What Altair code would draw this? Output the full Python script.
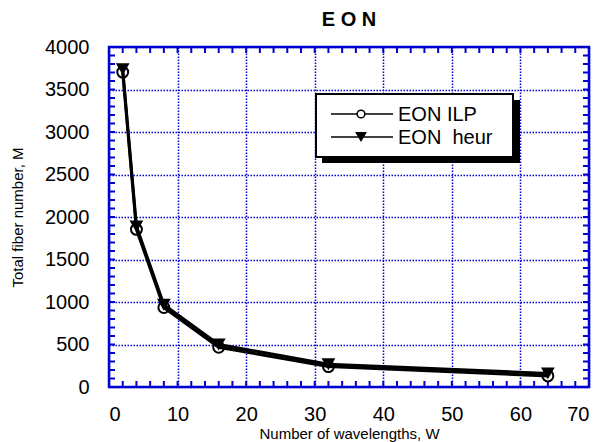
import altair as alt
import pandas as pd

# ---- data ----
wavelengths = [2, 4, 8, 16, 32, 64]
eon_ilp = [3705, 1855, 935, 468, 240, 130]
eon_heur = [3740, 1890, 968, 500, 268, 160]
x_minor = list(range(2, 70, 2))
y_minor = list(range(100, 4000, 100))
x_major = list(range(0, 71, 10))
y_major = list(range(0, 4001, 500))
chart_title = "E O N"

W, H = 480, 340
BLUE = "#0000d0"
FONT = "Liberation Sans"

df = pd.DataFrame({
    "W": wavelengths * 2,
    "M": eon_ilp + eon_heur,
    "series": ["EON ILP"] * len(wavelengths) + ["EON heur"] * len(wavelengths),
})
ilp_df = df[df.series == "EON ILP"]
heur_df = df[df.series == "EON heur"]

xs = alt.Scale(domain=[0, 70], nice=False, zero=False)
ys = alt.Scale(domain=[0, 4000], nice=False, zero=False)

x_axis = alt.Axis(values=x_major, grid=True, ticks=False, domain=False, format="d",
                  gridColor=BLUE, gridDash=[1.5, 1.5], gridWidth=1.5, gridOpacity=1,
                  labelFontSize=20, labelPadding=17, labelFont=FONT, labelColor="black",
                  title="Number of wavelengths, W", titleFontSize=15, titleFont=FONT,
                  titleFontWeight="normal", titleY=46, titleBaseline="middle", titleColor="black")
y_axis = alt.Axis(values=y_major, grid=True, ticks=False, domain=False, format="d",
                  gridColor=BLUE, gridDash=[1.5, 1.5], gridWidth=1.5, gridOpacity=1,
                  labelFontSize=20, labelPadding=20, labelFont=FONT, labelColor="black",
                  title="Total fiber number, M", titleFontSize=15, titleFont=FONT,
                  titleFontWeight="normal", titleX=-92, titleY=170, titleAngle=270,
                  titleBaseline="middle", titleAlign="center", titleColor="black")


def X(field):
    return alt.X(field, scale=xs, axis=x_axis)


def Y(field):
    return alt.Y(field, scale=ys, axis=y_axis)


base_grid = alt.Chart(df).mark_point(opacity=0).encode(x=X("W:Q"), y=Y("M:Q"))

# inward ticks on all four sides
xt = pd.DataFrame({"W": x_minor})
yt = pd.DataFrame({"M": y_minor})
tick_style = dict(color=BLUE, strokeWidth=2)
xb = alt.Chart(xt).mark_rule(**tick_style).encode(
    x=X("W:Q"), y=alt.value(H), y2=alt.value(H - 6))
xtop = alt.Chart(xt).mark_rule(**tick_style).encode(
    x=X("W:Q"), y=alt.value(0), y2=alt.value(6))
yl = alt.Chart(yt).mark_rule(**tick_style).encode(
    y=Y("M:Q"), x=alt.value(0), x2=alt.value(6))
yr = alt.Chart(yt).mark_rule(**tick_style).encode(
    y=Y("M:Q"), x=alt.value(W), x2=alt.value(W - 6))

line_ilp = alt.Chart(ilp_df).mark_line(color="black", strokeWidth=3).encode(
    x=X("W:Q"), y=Y("M:Q"))
line_heur = alt.Chart(heur_df).mark_line(color="black", strokeWidth=3).encode(
    x=X("W:Q"), y=Y("M:Q"))
pts_heur = alt.Chart(heur_df).mark_point(shape="triangle-down", filled=True, color="black",
                                         size=190, opacity=1).encode(
    x=X("W:Q"), y=Y("M:Q"))
pts_ilp = alt.Chart(ilp_df).mark_point(shape="circle", filled=False, color="black",
                                       strokeWidth=2, size=120, opacity=1).encode(
    x=X("W:Q"), y=Y("M:Q"))

# frame of the plot area
one = pd.DataFrame({"a": [0]})
frame = alt.Chart(one).mark_rect(fill=None, fillOpacity=0, stroke=BLUE, strokeWidth=2.5).encode(
    x=alt.value(0), x2=alt.value(W), y=alt.value(0), y2=alt.value(H))

# title as a text mark above the plot
title_mark = alt.Chart(one).mark_text(fontSize=20, font=FONT, fontWeight="bold",
                                      align="center", baseline="middle", color="black").encode(
    x=alt.value(W / 2), y=alt.value(-27), text=alt.value(chart_title))

# manual legend box with drop shadow
shadow = alt.Chart(one).mark_rect(color="black").encode(
    x=alt.value(213), x2=alt.value(411), y=alt.value(53), y2=alt.value(116))
box = alt.Chart(one).mark_rect(fill="white", stroke="black", strokeWidth=2).encode(
    x=alt.value(207), x2=alt.value(404), y=alt.value(47), y2=alt.value(110))
leg_l1 = alt.Chart(one).mark_rule(color="black", strokeWidth=1.5).encode(
    x=alt.value(222), x2=alt.value(284), y=alt.value(67))
leg_l2 = alt.Chart(one).mark_rule(color="black", strokeWidth=1.5).encode(
    x=alt.value(222), x2=alt.value(284), y=alt.value(90))
leg_c = alt.Chart(one).mark_point(shape="circle", filled=True, fill="white", stroke="black",
                                  strokeWidth=1.5, size=60, opacity=1).encode(
    x=alt.value(252), y=alt.value(67))
leg_t = alt.Chart(one).mark_point(shape="triangle-down", filled=True, color="black",
                                  size=140, opacity=1).encode(
    x=alt.value(252), y=alt.value(90))
txt_style = dict(align="left", baseline="middle", fontSize=20, font=FONT, color="black")
leg_txt1 = alt.Chart(one).mark_text(**txt_style).encode(
    x=alt.value(289), y=alt.value(68), text=alt.value("EON ILP"))
leg_txt2 = alt.Chart(one).mark_text(**txt_style).encode(
    x=alt.value(289), y=alt.value(91), text=alt.value("EON\u00a0 heur"))

chart = alt.layer(
    base_grid, xb, xtop, yl, yr, line_ilp, line_heur, pts_heur, pts_ilp, frame, title_mark,
    shadow, box, leg_l1, leg_l2, leg_c, leg_t, leg_txt1, leg_txt2,
).properties(
    width=W, height=H,
    autosize=alt.AutoSizeParams(type="none"),
    padding={"left": 101, "top": 39, "right": 3, "bottom": 55},
).configure_view(
    stroke=None,
).configure(background="white")

chart.save("out.html", embed_options={"renderer": "svg", "actions": False})
